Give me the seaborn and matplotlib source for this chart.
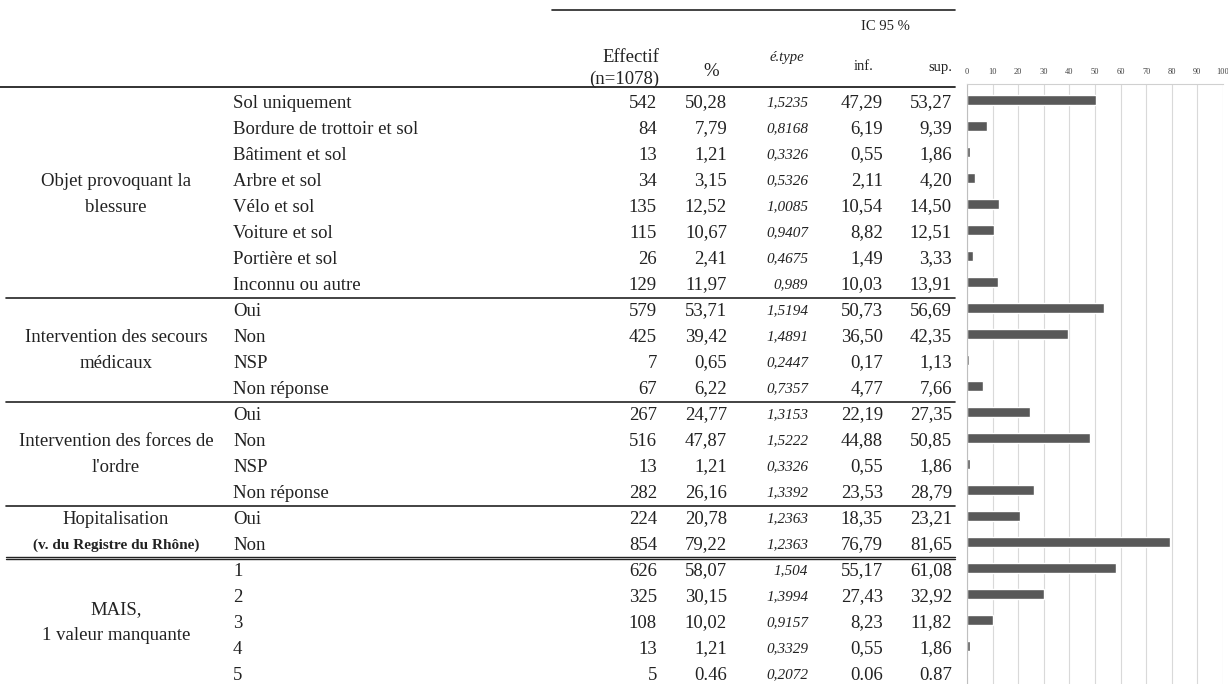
import matplotlib
matplotlib.use("Agg")
import matplotlib.pyplot as plt
import seaborn as sns

# -------------------------------
# 1. Data
# -------------------------------
categories = [
    "Sol uniquement", "Bordure de trottoir et sol", "Bâtiment et sol", "Arbre et sol",
    "Vélo et sol", "Voiture et sol", "Portière et sol", "Inconnu ou autre",
    "Oui", "Non", "NSP", "Non réponse",
    "Oui", "Non", "NSP", "Non réponse",
    "Oui", "Non",
    "1", "2", "3", "4", "5",
]
effectif = [542, 84, 13, 34, 135, 115, 26, 129,
            579, 425, 7, 67,
            267, 516, 13, 282,
            224, 854,
            626, 325, 108, 13, 5]
pct_labels = ["50,28", "7,79", "1,21", "3,15", "12,52", "10,67", "2,41", "11,97",
              "53,71", "39,42", "0,65", "6,22",
              "24,77", "47,87", "1,21", "26,16",
              "20,78", "79,22",
              "58,07", "30,15", "10,02", "1,21", "0.46"]
etype_labels = ["1,5235", "0,8168", "0,3326", "0,5326", "1,0085", "0,9407", "0,4675", "0,989",
                "1,5194", "1,4891", "0,2447", "0,7357",
                "1,3153", "1,5222", "0,3326", "1,3392",
                "1,2363", "1,2363",
                "1,504", "1,3994", "0,9157", "0,3329", "0,2072"]
inf_labels = ["47,29", "6,19", "0,55", "2,11", "10,54", "8,82", "1,49", "10,03",
              "50,73", "36,50", "0,17", "4,77",
              "22,19", "44,88", "0,55", "23,53",
              "18,35", "76,79",
              "55,17", "27,43", "8,23", "0,55", "0.06"]
sup_labels = ["53,27", "9,39", "1,86", "4,20", "14,50", "12,51", "3,33", "13,91",
              "56,69", "42,35", "1,13", "7,66",
              "27,35", "50,85", "1,86", "28,79",
              "23,21", "81,65",
              "61,08", "32,92", "11,82", "1,86", "0.87"]
# group label lines: (text, row position, bold)
group_labels = [
    ("Objet provoquant la", 3, False), ("blessure", 4, False),
    ("Intervention des secours", 9, False), ("médicaux", 10, False),
    ("Intervention des forces de", 13, False), ("l'ordre", 14, False),
    ("Hopitalisation", 16, False), ("(v. du Registre du Rhône)", 17, True),
    ("MAIS,", 19.5, False), ("1 valeur manquante", 20.5, False),
]
separators_after = [7, 11, 15]  # single rules after these rows
double_after = 17
axis_ticks = list(range(0, 101, 10))

pct = [float(s.replace(",", ".")) for s in pct_labels]
row_ids = list(range(len(categories)))

# -------------------------------
# 2. Layout (pixel based)
# -------------------------------
W, H = 1228, 684
ROW0, ROWH = 103, 26
FONT = ["Liberation Serif", "DejaVu Serif"]
INK = "#222222"

sns.set_style("white")
plt.rcParams["font.family"] = FONT

fig = plt.figure(figsize=(W / 100, H / 100), dpi=100)

tab = fig.add_axes([0, 0, 1, 1])
tab.set_xlim(0, W)
tab.set_ylim(H, 0)
tab.axis("off")


def row_y(i):
    return ROW0 + ROWH * i


# -------------------------------
# 3. Table header and rules
# -------------------------------
tab.plot([552, 955], [10, 10], color=INK, lw=1.2)
tab.plot([0, 955], [87, 87], color=INK, lw=1.3)
for r in separators_after:
    y = row_y(r + 0.5)
    tab.plot([6, 955], [y, y], color=INK, lw=1.2)
yd = row_y(double_after + 0.5)
tab.plot([6, 955], [yd - 1, yd - 1], color=INK, lw=1.0)
tab.plot([6, 955], [yd + 1, yd + 1], color=INK, lw=1.0)

tab.text(885, 27, "IC 95 %", ha="center", va="center", fontsize=10.5, color=INK)
tab.text(659, 58, "Effectif", ha="right", va="center", fontsize=13.5, color=INK)
tab.text(659, 79, "(n=1078)", ha="right", va="center", fontsize=13.5, color=INK)
tab.text(711, 71, "%", ha="center", va="center", fontsize=13.5, color=INK)
tab.text(787, 57, "é.type", ha="center", va="center", fontsize=10.5,
         style="italic", color=INK)
tab.text(874, 67, "inf.", ha="right", va="center", fontsize=10.5, color=INK)
tab.text(952, 67, "sup.", ha="right", va="center", fontsize=10.5, color=INK)

# -------------------------------
# 4. Table body
# -------------------------------
for text, pos, bold in group_labels:
    tab.text(116, row_y(pos), text, ha="center", va="center",
             fontsize=11 if bold else 13.5,
             fontweight="bold" if bold else "normal", color=INK)

for i in row_ids:
    y = row_y(i)
    tab.text(233, y, categories[i], ha="left", va="center", fontsize=13.5, color=INK)
    tab.text(657, y, str(effectif[i]), ha="right", va="center", fontsize=13.5, color=INK)
    tab.text(727, y, pct_labels[i], ha="right", va="center", fontsize=13.5, color=INK)
    tab.text(808, y, etype_labels[i], ha="right", va="center", fontsize=11,
             style="italic", color=INK)
    tab.text(883, y, inf_labels[i], ha="right", va="center", fontsize=13.5, color=INK)
    tab.text(952, y, sup_labels[i], ha="right", va="center", fontsize=13.5, color=INK)

# -------------------------------
# 5. Bar chart of %
# -------------------------------
ax_left, ax_right, ax_top = 967, 1223, 84
bar_ax = fig.add_axes([ax_left / W, 0, (ax_right - ax_left) / W, (H - ax_top) / H])
sns.barplot(x=pct, y=row_ids, orient="h", color="#595959", saturation=1,
            width=0.42, ax=bar_ax)

bar_off = 3  # bars sit slightly above the text centre
top_d = (ax_top - (ROW0 - bar_off)) / ROWH
bot_d = (H - (ROW0 - bar_off)) / ROWH
bar_ax.set_ylim(bot_d, top_d)
bar_ax.set_xlim(0, 100)
bar_ax.set_xticks(axis_ticks)
bar_ax.set_yticks([])
bar_ax.set_xlabel("")
bar_ax.set_ylabel("")
bar_ax.xaxis.tick_top()
bar_ax.tick_params(axis="x", length=0, labelsize=6, colors="#404040", pad=6)
bar_ax.grid(axis="x", color="#d9d9d9", lw=0.8)
bar_ax.set_axisbelow(True)
for side in ["right", "bottom"]:
    bar_ax.spines[side].set_visible(False)
bar_ax.spines["top"].set_color("#d0d0d0")
bar_ax.spines["left"].set_color("#bfbfbf")

fig.savefig("out.png", dpi=100)
